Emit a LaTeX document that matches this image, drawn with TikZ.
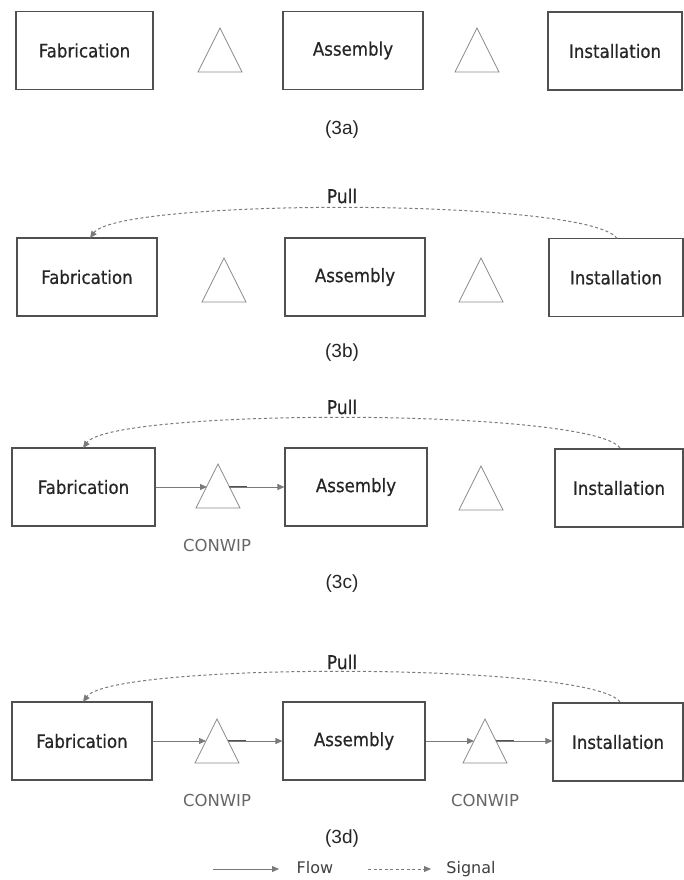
\documentclass[tikz,border=0pt]{standalone}
\usepackage{fontspec}
\setmainfont{Liberation Sans}
\newfontfamily\boxfont[BoldFont={DejaVu Sans Condensed},BoldFeatures={FakeBold=0.6}]{DejaVu Sans Condensed}
\newfontfamily\legfont{DejaVu Sans}
\usetikzlibrary{arrows.meta,calc}
\definecolor{boxline}{HTML}{505050}
\definecolor{triline}{HTML}{8A8A8A}
\definecolor{arrowc}{HTML}{7A7A7A}
\tikzset{
  procbox/.style={draw=boxline,line width=1.2pt,minimum height=78pt,inner sep=0pt,font=\boxfont\bfseries\fontsize{18.5}{20}\selectfont,text=black!85},
  trist/.style={draw=triline,line width=0.8pt},
  flowarr/.style={draw=arrowc,line width=1pt,-{Triangle[length=7pt,width=6pt]}},
  sigarr/.style={draw=arrowc,line width=1pt,dash pattern=on 3pt off 2.5pt,-{Triangle[length=7pt,width=6pt]}},
  pulllab/.style={font=\boxfont\bfseries\fontsize{19}{21}\selectfont,text=black!85},
  caplab/.style={font=\fontsize{19}{21}\selectfont,text=black!85},
  conlab/.style={font=\legfont\fontsize{16.5}{18}\selectfont,text=black!60},
  leglab/.style={font=\legfont\fontsize{16}{18}\selectfont,text=black!75},
  tri/.pic={\draw[trist] (-22,22) -- (0,-22) -- (22,22) -- cycle;
            \coordinate (-in) at (-11,0); \coordinate (-out) at (11,0);}
}
\begin{document}
\begin{tikzpicture}[x=1pt,y=-1pt]
\useasboundingbox (0,0) rectangle (683,880);
% ---- 3a
\node[procbox,minimum width=137pt] (fa) at (84.5,50.5) {Fabrication};
\node[procbox,minimum width=140pt] (aa) at (353,50.5) {Assembly};
\node[procbox,minimum width=134pt] (ia) at (615,51) {Installation};
\pic (ta1) at (220,50) {tri};
\pic (ta2) at (477,50) {tri};
\node[caplab] (ca) at (342,130) {(3a)};
% ---- 3b
\node[procbox,minimum width=140pt] (fb) at (87,277) {Fabrication};
\node[procbox,minimum width=140pt] (ab) at (355,277) {Assembly};
\node[procbox,minimum width=134pt] (ib) at (616,277.5) {Installation};
\pic (tb1) at (224,280) {tri};
\pic (tb2) at (481,280) {tri};
\node[pulllab] (pb) at (342,196) {Pull};
\coordinate (sb) at (617,238.5);
\coordinate (eb) at (90,238);
\draw[sigarr] (sb) .. controls (590,198) and (120,198) .. (eb);
\node[caplab] (cb) at (342,353) {(3b)};
% ---- 3c
\node[procbox,minimum width=143pt] (fc) at (83.5,487) {Fabrication};
\node[procbox,minimum width=142pt] (ac) at (356,487) {Assembly};
\node[procbox,minimum width=128pt] (ic) at (619,488) {Installation};
\pic (tc1) at (218,486) {tri};
\pic (tc2) at (481,488) {tri};
\node[pulllab] (pc) at (342,407) {Pull};
\coordinate (sc) at (620,448);
\coordinate (ec) at (83,448);
\draw[sigarr] (sc) .. controls (592,408) and (112,408) .. (ec);
\draw[flowarr] (fc.east) -- (tc1-in |- fc.east);
\draw[draw=boxline,line width=1.5pt] (tc1-out |- fc.east) -- ++(18,0);
\draw[flowarr] (tc1-out |- fc.east) -- (ac.west);
\node[conlab] (kc) at (217,545) {CONWIP};
\node[caplab] (cc) at (342,584) {(3c)};
% ---- 3d
\node[procbox,minimum width=140pt] (fd) at (82,741) {Fabrication};
\node[procbox,minimum width=142pt] (ad) at (354,741) {Assembly};
\node[procbox,minimum width=130pt] (id) at (618,742) {Installation};
\pic (td1) at (217,741) {tri};
\pic (td2) at (485,741) {tri};
\node[pulllab] (pd) at (342,662) {Pull};
\coordinate (sd) at (620,702);
\coordinate (ed) at (83,702);
\draw[sigarr] (sd) .. controls (592,662) and (112,662) .. (ed);
\draw[flowarr] (fd.east) -- (td1-in |- fd.east);
\draw[draw=boxline,line width=1.5pt] (td1-out |- fd.east) -- ++(18,0);
\draw[flowarr] (td1-out |- fd.east) -- (ad.west);
\draw[flowarr] (ad.east) -- (td2-in |- ad.east);
\draw[draw=boxline,line width=1.5pt] (td2-out |- ad.east) -- ++(18,0);
\draw[flowarr] (td2-out |- ad.east) -- (id.west |- ad.east);
\node[conlab] (kd1) at (217,800) {CONWIP};
\node[conlab] (kd2) at (485,800) {CONWIP};
\node[caplab] (cd) at (342,839) {(3d)};
% ---- legend
\coordinate (l1a) at (213,869);
\coordinate (l1b) at (279,869);
\draw[flowarr] (l1a) -- (l1b);
\node[leglab] (lf) at (315,868) {Flow};
\coordinate (l2a) at (368,869);
\coordinate (l2b) at (431,869);
\draw[sigarr] (l2a) -- (l2b);
\node[leglab] (ls) at (471,869) {Signal};
\end{tikzpicture}
\end{document}
